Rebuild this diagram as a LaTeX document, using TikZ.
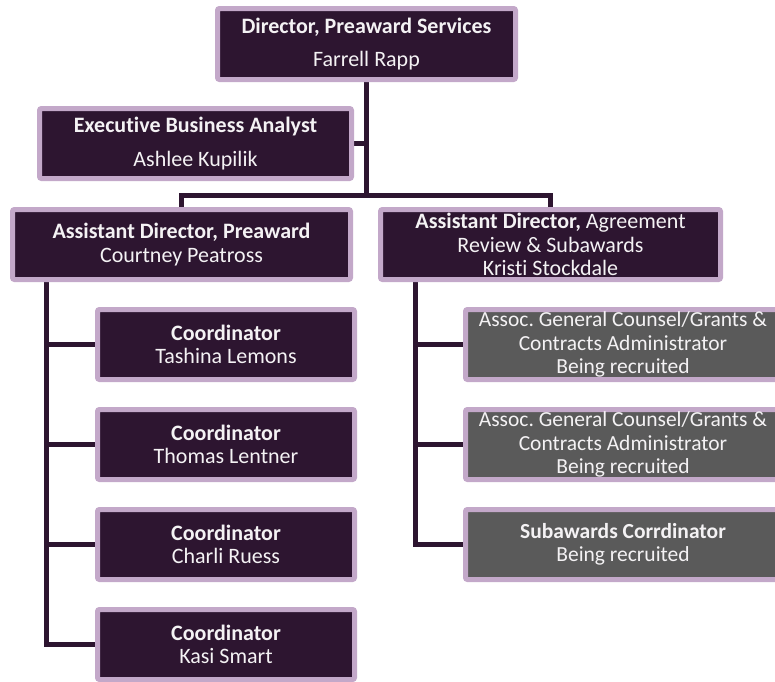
\documentclass[tikz,border=0pt]{standalone}
\usepackage{fontspec}
\setmainfont{Carlito}[Ligatures=NoCommon]
\frenchspacing
\usetikzlibrary{backgrounds}
\definecolor{darkplum}{HTML}{2D1530}
\definecolor{lavender}{HTML}{C3A8C9}
\definecolor{boxgray}{HTML}{5A5A5A}
\definecolor{txt}{HTML}{F4F2F4}
\tikzset{
  orgbox/.style={draw=lavender, line width=5pt, fill=darkplum, rounded corners=2pt,
    text=txt, align=center, inner sep=0pt,
    font=\fontsize{22}{23.5}\selectfont},
  vacbox/.style={orgbox, fill=boxgray, font=\fontsize{21.5}{23.5}\selectfont},
  conn/.style={draw=darkplum, line width=5pt},
}
\begin{document}
\begin{tikzpicture}[x=1pt,y=-1pt]
\useasboundingbox (0,0) rectangle (775,681);
\clip (0,0) rectangle (775,681);

\node[orgbox, minimum width=298pt, minimum height=71pt] (dir) at (366.5,44)
  {\textbf{Director, Preaward Services}\\[10pt]Farrell Rapp};
\node[orgbox, minimum width=312pt, minimum height=70pt] (exec) at (195.5,143.5)
  {\textbf{Executive Business Analyst}\\[10pt]Ashlee Kupilik};
\node[orgbox, minimum width=338pt, minimum height=70pt] (adp) at (181.5,244.5)
  {\textbf{Assistant Director, Preaward}\\Courtney Peatross};
\node[orgbox, minimum width=340pt, minimum height=70pt] (ada) at (550.5,244.5)
  {\textbf{Assistant Director,} Agreement\\Review \& Subawards\\Kristi Stockdale};

\node[orgbox, minimum width=257pt, minimum height=70pt] (c1) at (226,344.5)
  {\textbf{Coordinator}\\Tashina Lemons};
\node[orgbox, minimum width=257pt, minimum height=70pt] (c2) at (226,444.5)
  {\textbf{Coordinator}\\Thomas Lentner};
\node[orgbox, minimum width=257pt, minimum height=70pt] (c3) at (226,544.5)
  {\textbf{Coordinator}\\Charli Ruess};
\node[orgbox, minimum width=257pt, minimum height=70pt] (c4) at (226,644.5)
  {\textbf{Coordinator}\\Kasi Smart};

\node[vacbox, minimum width=315pt, minimum height=70pt] (g1) at (623,344.5)
  {Assoc. General Counsel/Grants \&\\Contracts Administrator\\Being recruited};
\node[vacbox, minimum width=315pt, minimum height=70pt] (g2) at (623,444.5)
  {Assoc. General Counsel/Grants \&\\Contracts Administrator\\Being recruited};
\node[vacbox, minimum width=315pt, minimum height=70pt] (g3) at (623,544.5)
  {\textbf{Subawards Corrdinator}\\Being recruited};

\coordinate (bus) at (366.5,195);
\coordinate (lt) at (46,282);
\coordinate (rt) at (415,282);

\begin{scope}[on background layer]
  \draw[conn] (dir.south) -- (bus);
  \draw[conn] (exec.east) -- (exec.east -| dir.south);
  \draw[conn] (bus) -| (adp.north);
  \draw[conn] (bus) -| (ada.north);
  \draw[conn] (lt) |- (c1.west);
  \draw[conn] (lt) |- (c2.west);
  \draw[conn] (lt) |- (c3.west);
  \draw[conn] (lt) |- (c4.west);
  \draw[conn] (rt) |- (g1.west);
  \draw[conn] (rt) |- (g2.west);
  \draw[conn] (rt) |- (g3.west);
\end{scope}
\end{tikzpicture}
\end{document}
